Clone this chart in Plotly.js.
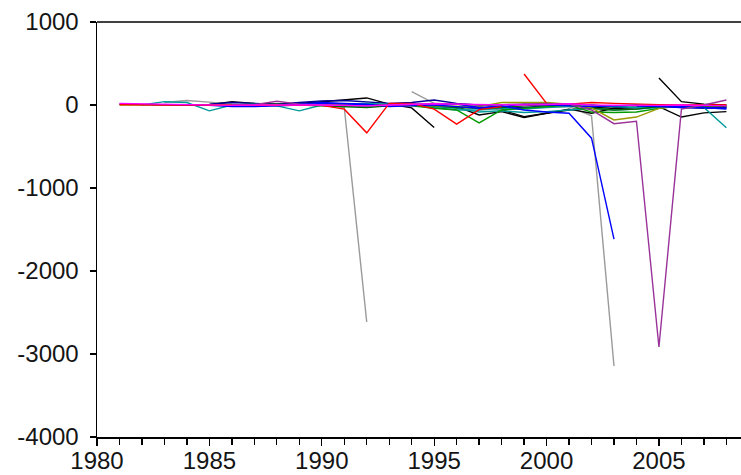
<!DOCTYPE html>
<html>
<head>
<meta charset="utf-8">
<script src="https://cdn.plot.ly/plotly-3.0.1.min.js"></script>
<style>
  html, body { margin: 0; padding: 0; background: #ffffff; }
  #chart { width: 741px; height: 475px; }
</style>
</head>
<body>
<div id="chart"></div>
<script>
// Annual panel: one line per cross-section, 1981-2008
const years = [];
for (let y = 1981; y <= 2008; y++) years.push(y);

// Each segment: first year, values in consecutive years, colour
const grayA    = { start: 1983, color: '#9a9a9a', values: [30, 55, 35, 10, 0, -10, 0, 10, -30, -2615] };
const grayB    = { start: 1994, color: '#9a9a9a', values: [160, 20, 10, -20, -60, -40, -20, -20, -130, -3145] };
const blackA   = { start: 1984, color: '#000000', values: [0, 5, 40, 20, 10, 20, 40, 60, 85, 10, -35, -270] };
const blackB   = { start: 1996, color: '#000000', values: [-20, -120, -80, -150, -100, -50, -100, -40, -30, -20, -10, -20, -30] };
const blackC   = { start: 2005, color: '#000000', values: [325, 40, 10, 0] };
const blackD   = { start: 1998, color: '#000000', values: [-60, -140, -100, -60, -30, -40, -30, -20, -145, -95, -80] };
const blueA    = { start: 1981, color: '#0000ff', values: [10, 5, 0, 0, -5, -20, -20, -10, 0, 20, 10, 0, -5, 10, 0, -20, -40, -10, -60, -85, -100, -400, -1615] };
const blueB    = { start: 2004, color: '#0000ff', values: [-10, -20, -30, -30, -50] };
const blueC    = { start: 1986, color: '#0000ff', values: [-15, -10, -5, 10, 30, 20, 10, -20, -10, 0, 10, -30, -20, 10, 0, -10, -20, -10, 0, -10, -20, -30, -40] };
const navy     = { start: 1985, color: '#000099', values: [10, 30, 20, 10, 30, 50, 55, 40, 20, 30, 60, 20, 0, -20, -30, -10, 10, 0, -20, -30, -10, -30, -40, -30] };
const tealA    = { start: 1982, color: '#009999', values: [0, 40, 30, -70, 0, 10, -10, -70, 0, 10, 20, 10, 0, -20, -40, -85, -70, -90, -80, -60, -40, -60, -50, -30, -20, -30, -275] };
const tealB    = { start: 1988, color: '#009999', values: [0, 10, 0, -10, -20, -10, 0, -30, -60, -60, -40, -50, -30, -20, -10, -20, -30, -20, -10, -20, -15] };
const greenA   = { start: 1990, color: '#009900', values: [20, 10, 0, 0, -10, -40, -60, -215, -60, -40, -20, 0, -85, -90, -85, -40, -10, -20, -10] };
const darkGreen = { start: 1986, color: '#006600', values: [0, 5, 10, 0, -10, -20, -30, -10, 0, -10, -30, -40, -30, -10, 0, 10, -40, -60, -50, -20, -10, -20, -15] };
const olive    = { start: 1981, color: '#999900', values: [0, 0, -5, -5, -5, 0, 0, 5, 5, 0, 0, 0, 0, -5, -10, -20, -20, 30, 30, 30, 10, -35, -180, -145, -40, -10, -10, -5] };
const redA     = { start: 1981, color: '#ff0000', values: [5, 0, 0, 0, 0, 0, -5, 0, 0, -5, -50, -335, 20, 20, -50, -230, -55, -20] };
const redB     = { start: 1999, color: '#ff0000', values: [373, 20, 10, 30, 20, 10, 5, 0, 5, 0] };
const purple   = { start: 1986, color: '#993399', values: [0, 5, 45, 10, 0, -5, -10, 0, 10, 20, 10, 0, 5, 10, 20, 10, -60, -225, -195, -2915, -50, 0, 60] };
const magenta  = { start: 1981, color: '#ff00ff', values: [20, 15, 5, 5, 0, -5, 0, 0, 5, 0, -5, -10, 0, 10, 15, 10, 5, 5, 0, 5, 15, 0, -5, -5, -5, 0, -5, -10] };

const segments = [grayA, grayB, blackA, blackB, blackD, blackC, navy, tealA, tealB, greenA,
                  darkGreen, olive, blueC, blueA, blueB, redA, redB, purple, magenta];

const traces = segments.map(s => ({
  type: 'scatter',
  mode: 'lines',
  x: s.values.map((_, i) => s.start + i),
  y: s.values,
  line: { color: s.color, width: 1.4 },
  hoverinfo: 'skip',
  showlegend: false
}));

const tickFont = { family: 'Liberation Sans, Arial, sans-serif', size: 24, color: '#141414' };

const layout = {
  width: 741,
  height: 475,
  margin: { l: 97, r: 0, t: 22, b: 38, pad: 0 },
  paper_bgcolor: '#ffffff',
  plot_bgcolor: '#ffffff',
  showlegend: false,
  xaxis: {
    range: [1980, 2008.65],
    tickmode: 'array',
    tickvals: [1980, 1985, 1990, 1995, 2000, 2005],
    ticktext: ['1980', '1985', '1990', '1995', '2000', '2005'],
    ticks: 'outside',
    ticklen: 7,
    tickwidth: 1.3,
    tickcolor: '#000',
    minor: { dtick: 1, tick0: 1980, ticks: 'outside', ticklen: 6, tickwidth: 1.3, tickcolor: '#000', showgrid: false },
    showline: true,
    linecolor: '#000',
    linewidth: 1.5,
    showgrid: false,
    zeroline: false,
    ticklabelstandoff: -5,
    tickfont: tickFont
  },
  yaxis: {
    range: [-4000, 1000],
    tickvals: [1000, 0, -1000, -2000, -3000, -4000],
    ticktext: ['1000', '0', '-1000', '-2000', '-3000', '-4000'],
    ticks: 'outside',
    ticklen: 6,
    tickwidth: 1.3,
    tickcolor: '#000',
    showline: true,
    linecolor: '#000',
    linewidth: 1.5,
    showgrid: false,
    zeroline: false,
    ticklabelstandoff: 6,
    tickfont: tickFont
  },
  shapes: [{
    type: 'line', xref: 'paper', yref: 'paper',
    x0: 0, x1: 1, y0: 1, y1: 1,
    line: { color: '#000', width: 1.5 }
  }]
};

Plotly.newPlot('chart', traces, layout, { staticPlot: true, displayModeBar: false });
</script>
</body>
</html>
